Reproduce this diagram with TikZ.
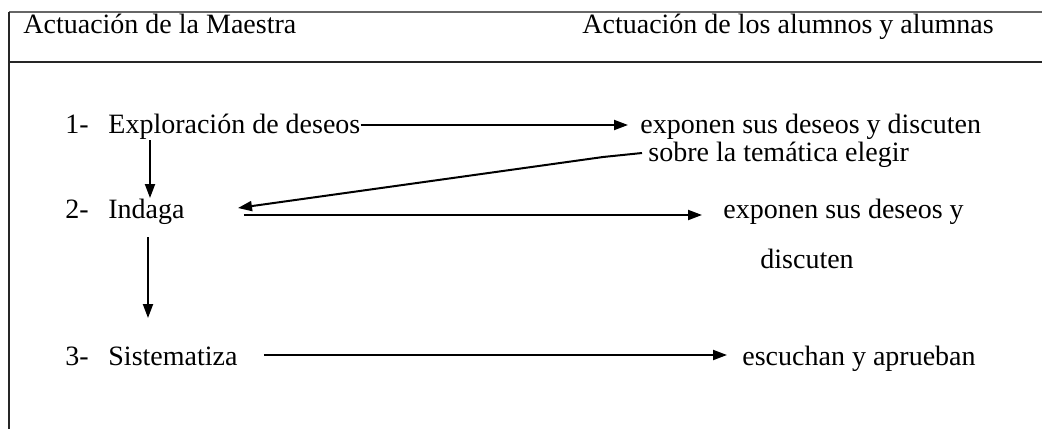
\documentclass[tikz,border=0pt]{standalone}
\usepackage{fontspec}
\setmainfont{Liberation Serif}
\usetikzlibrary{calc,arrows.meta}
\begin{document}
\begin{tikzpicture}[x=0.5pt,y=-0.5pt,
  txt/.style={anchor=base west,inner sep=0pt,font=\fontsize{14}{16}\selectfont},
  conn/.style={line width=1pt,-{Triangle[length=7pt,width=5pt]}},
  rule/.style={line width=0.75pt,black!85}]
\useasboundingbox (0,0) rectangle (1042,429);
% table frame
\coordinate (tl) at (9,12);
\coordinate (tr) at (1042,12);
\coordinate (ml) at (9,62);
\coordinate (mr) at (1042,62);
\coordinate (bl) at (9,429);
\draw[rule,black!60] (tl) -- (tr);
\draw[rule] (ml) -- (mr);
\draw[rule] (tl) -- (bl);
% headers
\node[txt] (h1) at (23,33) {Actuación de la Maestra};
\node[txt] (h2) at (582,33) {Actuación de los alumnos y alumnas};
% rows
\node[txt] (n1) at (65,133) {1-};
\node[txt] (expl) at (108,133) {Exploración de deseos};
\node[txt] (r1) at (640,133) {exponen sus deseos y discuten};
\node[txt] (r1b) at (648,161) {sobre la temática elegir};
\node[txt] (n2) at (65,218) {2-};
\node[txt] (ind) at (108,218) {Indaga};
\node[txt] (r2) at (723,218) {exponen sus deseos y};
\node[txt] (r2b) at (760,268) {discuten};
\node[txt] (n3) at (65,365) {3-};
\node[txt] (sis) at (108,365) {Sistematiza};
\node[txt] (r3) at (742,365) {escuchan y aprueban};
% connectors
\draw[conn] ($(expl.base east)+(0,-8)$) -- ($(r1.base west)+(-12,-8)$);
\draw[conn] ($(expl.base west)+(42,7)$) -- ($(ind.base west)+(42,-20)$);
\coordinate (k) at (603,157);
\draw[conn] ($(r1b.base west)+(-6,-8)$) -- (k) -- ($(ind.base east)+(53,-10)$);
\draw[conn] ($(ind.base east)+(59,-3)$) -- ($(r2.base west)+(-21,-3)$);
\draw[conn] ($(ind.base west)+(40,19)$) -- ($(sis.base west)+(40,-47)$);
\draw[conn] ($(sis.base east)+(26,-10)$) -- ($(r3.base west)+(-15,-10)$);
\end{tikzpicture}
\end{document}
